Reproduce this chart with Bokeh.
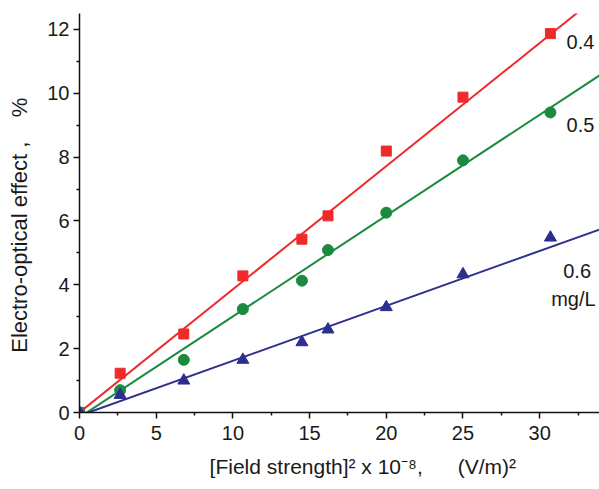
from bokeh.plotting import figure
from bokeh.models import Range1d, Label, ColumnDataSource, FixedTicker
from bokeh.embed import file_html
from bokeh.resources import INLINE

# ---- data ----
x_vals = [0.0, 2.65, 6.8, 10.65, 14.5, 16.2, 20.0, 25.0, 30.7]
y_04 = [0.0, 1.23, 2.46, 4.28, 5.43, 6.16, 8.19, 9.88, 11.87]
y_05 = [0.0, 0.70, 1.65, 3.24, 4.13, 5.09, 6.26, 7.90, 9.40]
y_06 = [0.0, 0.55, 1.00, 1.65, 2.20, 2.60, 3.30, 4.33, 5.48]

fit_x = [0.0, 34.0]
fit_04 = [0.0, 13.12]
fit_05 = [-0.15, 10.59]
fit_06 = [-0.10, 5.75]

x_ticks = [0, 5, 10, 15, 20, 25, 30]
x_minor = [2.5, 7.5, 12.5, 17.5, 22.5, 27.5, 32.5]
y_ticks = [0, 2, 4, 6, 8, 10, 12]
y_minor = [1, 3, 5, 7, 9, 11]

series_labels = ["0.4", "0.5", "0.6", "mg/L"]
label_x = [32.66, 32.66, 32.44, 32.2]
label_y = [11.61, 9.0, 4.42, 3.57]

RED = "#EE2A2A"
GREEN = "#1A8A3F"
BLUE = "#2D2E8F"
FONT = "Liberation Sans"
TXT = "#1a1a1a"
NB = "\u00a0"

p = figure(width=599, height=489, output_backend="svg", toolbar_location=None,
           x_range=Range1d(0, 33.9), y_range=Range1d(0, 12.5),
           min_border_left=79, min_border_right=0, min_border_top=13, min_border_bottom=77)
p.outline_line_color = None
p.grid.visible = False
p.background_fill_color = "white"
p.border_fill_color = "white"

src = ColumnDataSource(dict(x=x_vals, a=y_04, b=y_05, c=y_06))

p.line(fit_x, fit_04, line_color=RED, line_width=2)
p.line(fit_x, fit_05, line_color=GREEN, line_width=2)
p.line(fit_x, fit_06, line_color=BLUE, line_width=2)

p.scatter("x", "a", source=src, marker="square", size=10, fill_color=RED, line_color=RED)
p.scatter("x", "b", source=src, marker="circle", size=11, fill_color=GREEN, line_color=GREEN)
p.scatter("x", "c", source=src, marker="triangle", size=12, fill_color=BLUE, line_color=BLUE)

for t, lx, ly in zip(series_labels, label_x, label_y):
    p.add_layout(Label(x=lx, y=ly, text=t, text_align="center", text_baseline="middle",
                       text_font=FONT, text_font_size="20px", text_color=TXT))

for ax in (p.xaxis[0], p.yaxis[0]):
    ax.axis_line_color = "#111"
    ax.axis_line_width = 1.5
    ax.major_tick_line_color = "#111"
    ax.minor_tick_line_color = "#111"
    ax.major_tick_line_width = 1.5
    ax.minor_tick_line_width = 1.5
    ax.major_tick_in = 0
    ax.major_tick_out = 6
    ax.minor_tick_in = 0
    ax.minor_tick_out = 3
    ax.major_label_text_font = FONT
    ax.major_label_text_font_size = "20px"
    ax.major_label_text_color = TXT
    ax.axis_label_text_font = FONT
    ax.axis_label_text_font_size = "21px"
    ax.axis_label_text_font_style = "normal"
    ax.axis_label_text_color = TXT

p.yaxis[0].axis_label_text_font_size = "22px"

p.xaxis[0].ticker = FixedTicker(ticks=x_ticks, minor_ticks=x_minor)
p.yaxis[0].ticker = FixedTicker(ticks=y_ticks, minor_ticks=y_minor)

p.xaxis.axis_label = NB * 8 + "[Field strength]\u00b2 x 10\u207b\u2078," + NB * 6 + "(V/m)\u00b2"
p.yaxis.axis_label = "Electro-optical effect ," + NB * 4 + "%" + NB * 4
p.xaxis.major_label_standoff = 7
p.yaxis.major_label_standoff = 4
p.xaxis.axis_label_standoff = 12
p.yaxis.axis_label_standoff = 12

open("out.html", "w").write(file_html(p, INLINE))
